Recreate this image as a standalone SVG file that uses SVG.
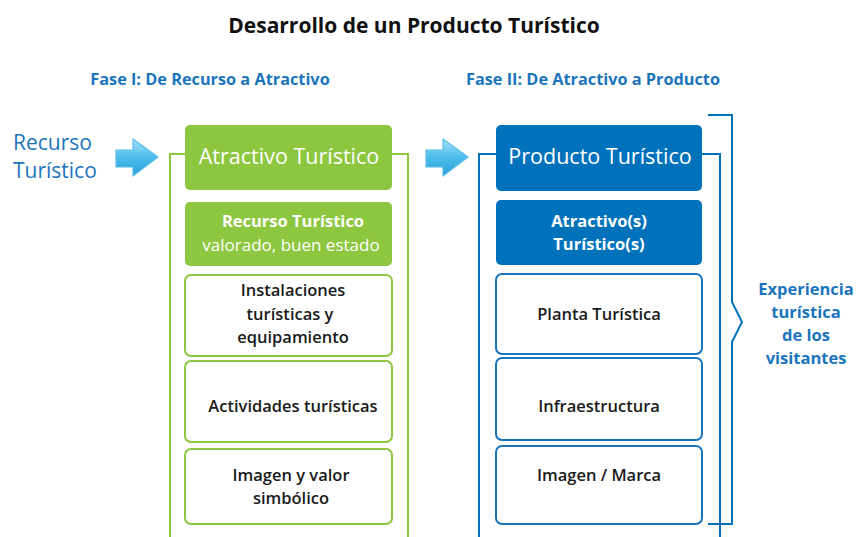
<svg xmlns="http://www.w3.org/2000/svg" width="856" height="537" viewBox="0 0 856 537">
<defs>
<linearGradient id="ag" x1="0" y1="0" x2="0" y2="1">
<stop offset="0" stop-color="#a8e0f8"/>
<stop offset="0.5" stop-color="#4cbdec"/>
<stop offset="1" stop-color="#2a9fd8"/>
</linearGradient>
<style>
text{font-family:"Open Sans","Noto Sans",sans-serif;text-anchor:middle;dominant-baseline:central}
.title{font-size:21px;font-weight:700;fill:#111}
.phase{font-size:16.3px;font-weight:700;fill:#1b75bc}
.side{font-size:21px;fill:#1b75bc;text-anchor:start}
.head{font-size:21.5px;fill:#fff}
.sub{font-size:16.5px;font-weight:700;fill:#fff}
.subl{font-size:17px;fill:#fff}
.item{font-size:16.5px;font-weight:600;fill:#1a1a1a}
.exp{font-size:16.5px;font-weight:700;fill:#1b75bc}
.gfill{fill:#8dc63f}
.bfill{fill:#0072bc}
.gbox{fill:#fff;stroke:#8dc63f;stroke-width:2}
.bbox{fill:#fff;stroke:#1b75bc;stroke-width:2}
.gline{fill:none;stroke:#8dc63f;stroke-width:2}
.bline{fill:none;stroke:#0072bc;stroke-width:2}
.arrow{fill:url(#ag);stroke:#5bbde8;stroke-width:1.2;stroke-linejoin:round}
</style>
</defs>
<rect width="856" height="537" fill="#fff"/>
<text class="title" x="414" y="25">Desarrollo de un Producto Turístico</text>
<text class="phase" x="210" y="79">Fase I: De Recurso a Atractivo</text>
<text class="phase" x="593" y="79">Fase II: De Atractivo a Producto</text>
<g id="recurso">
<text class="side" x="13" y="142">Recurso</text>
<text class="side" x="13" y="170">Turístico</text>
</g>
<g id="connectors">
<path class="arrow" d="M116,150 H133 V139 L158,157 L133,176 V167 H116 Z"/>
<path class="arrow" d="M426,150 H443 V139 L468,157 L443,176 V167 H426 Z"/>
<path class="gline" d="M185,154 H170 V537 M392,154 H408 V537"/>
<path class="bline" d="M496,154 H479 V537 M702,154 H720 V537"/>
<path class="bline" d="M708,115 H732 V302 L742,322 L732,342 V524 H708"/>
</g>
<g id="atractivo">
<rect class="gfill" x="185" y="125" width="207" height="65" rx="5"/>
<text class="head" x="289" y="155">Atractivo Turístico</text>
</g>
<g id="recurso-valorado">
<rect class="gfill" x="185" y="202" width="207" height="64" rx="5"/>
<text class="sub" x="293" y="220">Recurso Turístico</text>
<text class="subl" x="291" y="244">valorado, buen estado</text>
</g>
<g id="instalaciones">
<rect class="gbox" x="185" y="275" width="207" height="81" rx="6"/>
<text class="item" x="293" y="289">Instalaciones</text>
<text class="item" x="290" y="313">turísticas y</text>
<text class="item" x="293" y="336">equipamiento</text>
</g>
<g id="actividades">
<rect class="gbox" x="185" y="361" width="207" height="81" rx="6"/>
<text class="item" x="293" y="405">Actividades turísticas</text>
</g>
<g id="imagen-valor">
<rect class="gbox" x="185" y="449" width="207" height="75" rx="6"/>
<text class="item" x="291" y="474">Imagen y valor</text>
<text class="item" x="291" y="497">simbólico</text>
</g>
<g id="producto">
<rect class="bfill" x="496" y="125" width="206" height="66" rx="5"/>
<text class="head" x="600" y="155">Producto Turístico</text>
</g>
<g id="atractivos">
<rect class="bfill" x="496" y="200" width="206" height="65" rx="5"/>
<text class="sub" x="599" y="220">Atractivo(s)</text>
<text class="sub" x="599" y="243">Turístico(s)</text>
</g>
<g id="planta">
<rect class="bbox" x="496" y="274" width="206" height="80" rx="6"/>
<text class="item" x="599" y="313">Planta Turística</text>
</g>
<g id="infraestructura">
<rect class="bbox" x="496" y="358" width="206" height="82" rx="6"/>
<text class="item" x="599" y="405">Infraestructura</text>
</g>
<g id="imagen-marca">
<rect class="bbox" x="496" y="446" width="206" height="78" rx="6"/>
<text class="item" x="599" y="474">Imagen / Marca</text>
</g>
<g id="experiencia">
<text class="exp" x="806" y="288">Experiencia</text>
<text class="exp" x="806" y="311">turística</text>
<text class="exp" x="806" y="334">de los</text>
<text class="exp" x="806" y="357">visitantes</text>
</g>
</svg>
